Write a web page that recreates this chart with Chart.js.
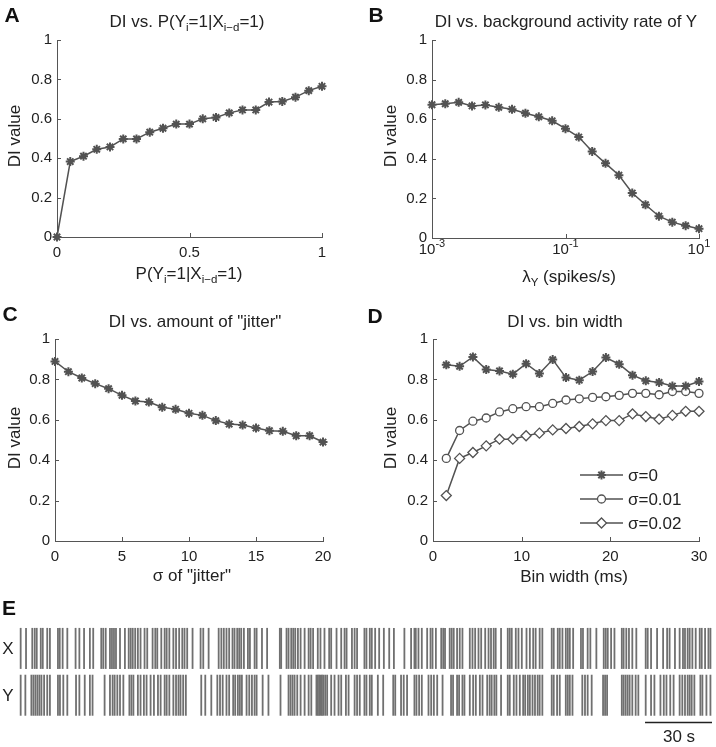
<!DOCTYPE html>
<html>
<head>
<meta charset="utf-8">
<script src="https://cdn.jsdelivr.net/npm/chart.js@4.4.1/dist/chart.umd.min.js"></script>
<style>
  body { margin: 0; background: #fff; }
  #fig { position: relative; width: 716px; height: 747px; font-family: 'Liberation Sans', Arial, sans-serif; color: #222; overflow: hidden; }
  canvas { position: absolute; }
  .t { position: absolute; transform: translate(-50%, -50%); white-space: nowrap; line-height: 1; font-size: 17px; }
  .v { transform: translate(-50%, -50%) rotate(-90deg); }
  .L { font-weight: bold; font-size: 21px; color: #111; }
  sub { font-size: 11.5px; vertical-align: -4px; line-height: 0; }
</style>
</head>
<body>
<div id="fig">
  <canvas id="cA" width="358" height="300" style="left:0;top:0"></canvas>
  <canvas id="cB" width="358" height="300" style="left:358px;top:0"></canvas>
  <canvas id="cC" width="358" height="290" style="left:0;top:300px"></canvas>
  <canvas id="cD" width="358" height="290" style="left:358px;top:300px"></canvas>
  <canvas id="cE" width="716" height="147" style="left:0;top:600px"></canvas>

  <div class="t L" style="left:12px;top:14px">A</div>
  <div class="t L" style="left:376px;top:14px">B</div>
  <div class="t L" style="left:10px;top:313px">C</div>
  <div class="t L" style="left:375px;top:315px">D</div>
  <div class="t L" style="left:9px;top:607px">E</div>

  <div class="t" style="left:187px;top:21px">DI vs. P(Y<sub>i</sub>=1|X<sub>i−d</sub>=1)</div>
  <div class="t" style="left:566px;top:21px">DI vs. background activity rate of Y</div>
  <div class="t" style="left:195px;top:321px">DI vs. amount of "jitter"</div>
  <div class="t" style="left:565px;top:321px">DI vs. bin width</div>

  <div class="t v" style="left:14px;top:136px">DI value</div>
  <div class="t v" style="left:390px;top:136px">DI value</div>
  <div class="t v" style="left:14px;top:438px">DI value</div>
  <div class="t v" style="left:390px;top:438px">DI value</div>

  <div class="t" style="left:189px;top:273px">P(Y<sub>i</sub>=1|X<sub>i−d</sub>=1)</div>
  <div class="t" style="left:569px;top:276px">λ<sub>Y</sub> (spikes/s)</div>
  <div class="t" style="left:192px;top:575px">σ of "jitter"</div>
  <div class="t" style="left:574px;top:576px">Bin width (ms)</div>

  <div class="t" style="left:8px;top:648px">X</div>
  <div class="t" style="left:8px;top:695px">Y</div>
  <div class="t" style="left:679px;top:736px">30 s</div>
</div>

<script>
// ---- data ----
const yTicks = [0, 0.2, 0.4, 0.6, 0.8, 1];

// A: DI vs. P(Yi=1|Xi-d=1)
const pA = [0, 0.05, 0.1, 0.15, 0.2, 0.25, 0.3, 0.35, 0.4, 0.45, 0.5, 0.55, 0.6, 0.65, 0.7, 0.75, 0.8, 0.85, 0.9, 0.95, 1];
const diA = [0, 0.383, 0.41, 0.445, 0.457, 0.498, 0.498, 0.532, 0.552, 0.573, 0.573, 0.6, 0.607, 0.63, 0.645, 0.645, 0.685, 0.688, 0.71, 0.743, 0.765];
const xTicksA = [0, 0.5, 1];

// B: DI vs. background rate of Y (log x)
const lambdaB = [0.001, 0.00158, 0.00251, 0.00398, 0.00631, 0.01, 0.0158, 0.0251, 0.0398, 0.0631, 0.1, 0.158, 0.251, 0.398, 0.631, 1, 1.58, 2.51, 3.98, 6.31, 10];
const diB = [0.673, 0.678, 0.685, 0.667, 0.672, 0.66, 0.65, 0.63, 0.612, 0.592, 0.552, 0.51, 0.437, 0.377, 0.317, 0.227, 0.168, 0.11, 0.08, 0.062, 0.047];
const xTicksB = [0.001, 0.1, 10];
const xTickExpB = ['-3', '-1', '1'];

// C: DI vs. jitter
const sigmaC = [0, 1, 2, 3, 4, 5, 6, 7, 8, 9, 10, 11, 12, 13, 14, 15, 16, 17, 18, 19, 20];
const diC = [0.889, 0.838, 0.807, 0.779, 0.754, 0.721, 0.693, 0.688, 0.662, 0.652, 0.632, 0.622, 0.596, 0.579, 0.574, 0.559, 0.546, 0.543, 0.521, 0.521, 0.49];
const xTicksC = [0, 5, 10, 15, 20];

// D: DI vs. bin width
const binD = [1.5, 3, 4.5, 6, 7.5, 9, 10.5, 12, 13.5, 15, 16.5, 18, 19.5, 21, 22.5, 24, 25.5, 27, 28.5, 30];
const diD0 = [0.872, 0.865, 0.911, 0.849, 0.842, 0.826, 0.878, 0.829, 0.898, 0.809, 0.796, 0.839, 0.908, 0.875, 0.821, 0.793, 0.785, 0.767, 0.767, 0.79];
const diD1 = [0.409, 0.547, 0.593, 0.609, 0.639, 0.655, 0.665, 0.665, 0.681, 0.698, 0.704, 0.711, 0.714, 0.721, 0.731, 0.731, 0.724, 0.74, 0.74, 0.731];
const diD2 = [0.225, 0.409, 0.438, 0.471, 0.504, 0.504, 0.521, 0.534, 0.55, 0.557, 0.567, 0.58, 0.596, 0.596, 0.629, 0.616, 0.603, 0.622, 0.642, 0.642];
const legendD = ['σ=0', 'σ=0.01', 'σ=0.02'];
const xTicksD = [0, 10, 20, 30];

// E: spike times (s)
const spikesX = [0.3, 2.7, 5.5, 6.6, 7.5, 9.3, 10.2, 12.2, 13.4, 17.0, 17.8, 19.1, 21.2, 24.9, 26.6, 28.7, 31.3, 32.8, 36.4, 37.3, 38.4, 40.3, 41.2, 42.1, 43.0, 44.8, 47.0, 48.7, 49.6, 50.5, 51.6, 52.8, 54.0, 55.8, 57.0, 59.4, 60.6, 61.5, 63.3, 64.8, 65.7, 66.9, 68.7, 69.9, 71.3, 72.7, 73.7, 74.9,
  77.3, 80.9, 82.1, 84.5, 89.0, 90.2, 91.3, 92.5, 93.7, 95.2, 96.1, 97.3, 98.2, 99.1, 100.3, 102.1, 103.0, 105.1, 106.0, 108.4, 110.7, 116.4, 117.0, 119.4, 120.3, 121.5, 122.4, 123.3, 124.5, 125.7, 127.5, 129.3, 130.2, 131.3, 133.4, 134.6, 136.4, 138.5, 139.4, 141.8, 143.9, 145.4, 146.3, 148.7, 149.9, 151.0,
  154.3, 155.2, 156.7, 157.6, 159.1, 160.9, 163.0, 165.4, 167.5, 172.2, 175.2, 176.7, 177.3, 178.5, 180.0, 182.4, 183.9, 184.8, 186.3, 188.7, 189.6, 190.4, 192.5, 193.4, 194.3, 195.8, 197.0, 198.2, 201.5, 202.7, 203.9, 205.4, 206.6, 208.4, 209.9, 211.0, 212.2, 213.1, 215.5, 218.5, 219.4, 220.3, 222.1, 223.3, 224.8, 226.9, 228.4, 229.9, 231.0,
  232.8, 234.0, 238.2, 239.1, 240.9, 241.8, 243.0, 244.5, 245.4, 246.3, 247.8, 251.3, 252.2, 254.3, 255.5, 258.2, 261.5, 262.4, 263.3, 264.8, 266.3, 269.6, 270.4, 271.6, 272.8, 274.3, 276.1, 280.3, 281.2, 282.7, 285.4, 288.1, 289.9, 291.0, 293.4, 295.5, 297.0, 297.9, 299.1, 300.0, 301.2, 302.7, 304.5, 305.4, 306.9, 308.4, 309.3];
const spikesY = [0.3, 2.4, 5.1, 6.0, 6.9, 7.8, 8.7, 9.6, 10.8, 12.2, 13.4, 17.0, 17.9, 19.4, 21.2, 25.1, 26.6, 29.0, 31.3, 32.5, 37.9, 40.3, 41.5, 42.4, 43.6, 44.8, 46.3, 49.0, 49.9, 50.8, 52.8, 54.0, 55.5, 56.7, 58.5, 60.0, 61.8, 63.0, 64.8, 65.7, 66.9, 68.7, 69.9, 71.0, 71.9, 73.1, 74.3,
  81.2, 83.0, 85.7, 88.4, 89.6, 90.8, 92.5, 93.7, 95.5, 96.4, 97.6, 98.5, 99.4, 101.5, 102.7, 103.9, 105.1, 106.0, 108.7, 111.3, 116.7, 120.3, 121.2, 122.1, 123.0, 124.2, 125.7, 127.5, 129.3, 130.5, 132.8, 133.4, 134.0, 134.6, 135.2, 135.8, 136.7, 137.6, 139.4, 140.9, 142.7, 143.9, 146.0, 147.2, 149.9, 151.0, 152.2,
  154.3, 155.2, 156.7, 157.6, 160.3, 162.7, 167.2, 168.1, 170.7, 171.9, 173.4, 176.7, 177.6, 178.8, 180.0, 183.0, 184.2, 185.4, 186.9, 189.3, 193.1, 194.0, 195.8, 196.7, 198.2, 199.1, 201.5, 203.0, 204.2, 206.0, 207.2, 209.3, 210.4, 211.3, 212.5, 213.4, 215.5, 218.5, 219.4, 221.2, 222.4, 223.9, 225.4, 226.3, 227.5, 228.4, 229.6, 230.7,
  231.9, 232.8, 234.0, 238.2, 239.1, 240.6, 241.8, 244.5, 245.4, 246.3, 247.5, 251.9, 253.1, 254.3, 256.1, 261.2, 262.1, 263.0, 269.6, 270.4, 271.3, 272.2, 273.1, 274.3, 275.8, 277.0, 280.3, 282.7, 284.2, 286.9, 288.4, 289.6, 291.3, 292.8, 295.5, 296.7, 297.9, 299.1, 300.0, 300.9, 302.1, 304.8, 305.7, 307.5, 309.3];
const rasterSpan = [0, 310];
const scaleBar = [280, 310];   // 30 s

// ---- styling ----
const FONT = "'Liberation Sans', Arial, sans-serif";
const TEXT = '#222';
const AXIS = '#555';
const LINE = '#525252';
const SPIKE = '#707070';

Chart.defaults.font.family = FONT;
Chart.defaults.color = TEXT;

// small inward tick marks, MATLAB style
const inTicks = {
  id: 'inTicks',
  afterDraw(chart) {
    const { ctx, chartArea } = chart;
    const sx = chart.scales.x, sy = chart.scales.y;
    ctx.save();
    ctx.strokeStyle = AXIS;
    ctx.lineWidth = 1;
    ctx.beginPath();
    sx.ticks.forEach(t => {
      const px = Math.round(sx.getPixelForValue(t.value)) + 0.5;
      ctx.moveTo(px, chartArea.bottom);
      ctx.lineTo(px, chartArea.bottom - 4);
    });
    sy.ticks.forEach(t => {
      const py = Math.round(sy.getPixelForValue(t.value)) + 0.5;
      ctx.moveTo(chartArea.left, py);
      ctx.lineTo(chartArea.left + 4, py);
    });
    ctx.stroke();
    ctx.restore();
  }
};

// 10^n labels for the log axis of B
const powLabels = {
  id: 'powLabels',
  afterDraw(chart) {
    const ctx = chart.ctx, sx = chart.scales.x;
    ctx.save();
    ctx.fillStyle = TEXT;
    ctx.textBaseline = 'alphabetic';
    ctx.textAlign = 'left';
    xTicksB.forEach((v, i) => {
      const px = sx.getPixelForValue(v);
      ctx.font = '15px ' + FONT;
      const w1 = ctx.measureText('10').width;
      ctx.font = '11px ' + FONT;
      const w2 = ctx.measureText(xTickExpB[i]).width;
      const x0 = px - (w1 + w2) / 2;
      const base = chart.chartArea.bottom + 16;
      ctx.font = '15px ' + FONT;
      ctx.fillText('10', x0, base);
      ctx.font = '11px ' + FONT;
      ctx.fillText(xTickExpB[i], x0 + w1, base - 7);
    });
    ctx.restore();
  }
};

// legend for D: line + marker + label
const legendPlugin = {
  id: 'legendD',
  afterDraw(chart) {
    const ctx = chart.ctx, a = chart.chartArea;
    chart.data.datasets.forEach((ds, i) => {
      const y = a.top + 136 + i * 24;
      const x1 = a.left + 147, x2 = a.left + 190;
      ctx.save();
      ctx.strokeStyle = ds.borderColor;
      ctx.lineWidth = ds.borderWidth;
      ctx.beginPath();
      ctx.moveTo(x1, y);
      ctx.lineTo(x2, y);
      ctx.stroke();
      ctx.fillStyle = ds.pointBackgroundColor;
      ctx.strokeStyle = ds.pointBorderColor;
      ctx.lineWidth = ds.pointBorderWidth;
      Chart.helpers.drawPoint(ctx, { pointStyle: ds.pointStyle, radius: ds.pointRadius, rotation: 0, borderWidth: ds.pointBorderWidth }, (x1 + x2) / 2, y);
      ctx.fillStyle = TEXT;
      ctx.font = '17px ' + FONT;
      ctx.textBaseline = 'middle';
      ctx.fillText(legendD[i], x2 + 5, y + 1);
      ctx.restore();
    });
  }
};

function series(xs, ys, extra) {
  return Object.assign({
    data: xs.map((x, i) => ({ x: x, y: ys[i] })),
    borderColor: LINE,
    borderWidth: 1.5,
    clip: false,
    pointStyle: 'star',
    pointRadius: 4.5,
    pointBorderWidth: 2,
    pointBorderColor: LINE,
    pointBackgroundColor: LINE
  }, extra || {});
}

function xAxis(type, min, max, ticks, showLabels) {
  return {
    type: type, min: min, max: max,
    grid: { display: false, drawTicks: false },
    border: { color: AXIS, width: 1 },
    afterBuildTicks: s => { s.ticks = ticks.map(v => ({ value: v })); },
    ticks: { display: showLabels, font: { size: 15 }, color: TEXT, padding: 7, maxRotation: 0, autoSkip: false, callback: v => String(v) },
    afterFit: s => { s.height = 30; }
  };
}

function makePanel(id, box, xOpts, datasets, extra) {
  const cv = document.getElementById(id);
  return new Chart(cv, {
    type: 'line',
    data: { datasets: datasets },
    options: {
      responsive: false,
      animation: false,
      devicePixelRatio: 1,
      layout: { autoPadding: false, padding: { left: box.l - 40, right: cv.width - box.r, top: box.t, bottom: cv.height - box.b - 30 } },
      plugins: { legend: { display: false }, tooltip: { enabled: false } },
      scales: {
        x: xOpts,
        y: {
          min: 0, max: 1,
          grid: { display: false, drawTicks: false },
          border: { color: AXIS, width: 1 },
          afterBuildTicks: s => { s.ticks = yTicks.map(v => ({ value: v })); },
          ticks: { font: { size: 15 }, color: TEXT, padding: 5, callback: v => String(v) },
          afterFit: s => { s.width = 40; }
        }
      }
    },
    plugins: [inTicks].concat(extra || [])
  });
}

makePanel('cA', { l: 57, r: 322, t: 40, b: 237 }, xAxis('linear', 0, 1, xTicksA, true), [series(pA, diA)]);
makePanel('cB', { l: 74, r: 341, t: 40, b: 238 }, xAxis('logarithmic', 0.001, 10, xTicksB, false), [series(lambdaB, diB)], [powLabels]);
makePanel('cC', { l: 55, r: 323, t: 39, b: 241 }, xAxis('linear', 0, 20, xTicksC, true), [series(sigmaC, diC)]);
makePanel('cD', { l: 75, r: 341, t: 39, b: 241 }, xAxis('linear', 0, 30, xTicksD, true), [
  series(binD, diD0),
  series(binD, diD1, { pointStyle: 'circle', pointRadius: 4, pointBorderWidth: 1.3, pointBackgroundColor: '#fff' }),
  series(binD, diD2, { pointStyle: 'rectRot', pointRadius: 5, pointBorderWidth: 1.3, pointBackgroundColor: '#fff' })
], [legendPlugin]);

// E: spike raster, row X at y=1, row Y at y=0
function spikeSet(times, row) {
  return {
    data: times.map(t => ({ x: t, y: row })),
    pointStyle: 'line',
    pointRotation: 90,
    pointRadius: 20.5,
    pointHoverRadius: 20.5,
    pointBorderWidth: 1.8,
    pointBorderColor: SPIKE,
    clip: false
  };
}

new Chart(document.getElementById('cE'), {
  type: 'scatter',
  data: {
    datasets: [
      spikeSet(spikesX, 1),
      spikeSet(spikesY, 0),
      {
        type: 'line',
        data: scaleBar.map(t => ({ x: t, y: -0.585 })),
        borderColor: '#222',
        borderWidth: 1.5,
        pointRadius: 0,
        clip: false
      }
    ]
  },
  options: {
    responsive: false,
    animation: false,
    devicePixelRatio: 1,
    layout: { autoPadding: false, padding: { left: 20, right: 4, top: 25, bottom: 19 } },
    plugins: { legend: { display: false }, tooltip: { enabled: false } },
    scales: {
      x: { type: 'linear', display: false, min: rasterSpan[0], max: rasterSpan[1] },
      y: { type: 'linear', display: false, min: -0.7, max: 1.5 }
    }
  }
});
</script>
</body>
</html>
